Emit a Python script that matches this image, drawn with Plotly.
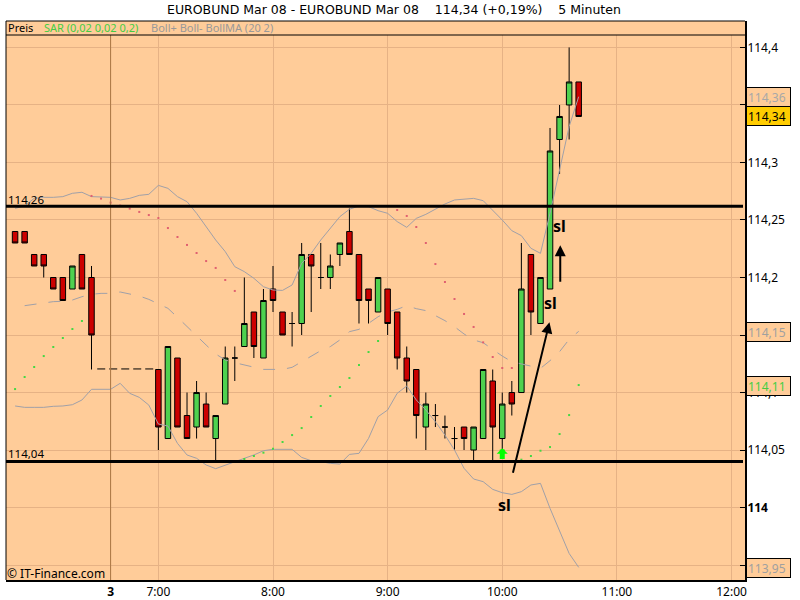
import plotly.graph_objects as go

# --- data ---
bar_x = [-15,-14,-13,-12,-11,-10,-9,-8,-7] + list(range(0,45))
opens = [114.24,114.24,114.22,114.22,114.20,114.20,114.19,114.22,114.20,
 114.12,114.06,114.13,114.08,114.07,114.09,114.06,114.09,114.13,114.14,114.17,114.13,114.19,114.17,114.16,114.16,
 114.22,114.20,114.20,114.22,114.24,114.22,114.19,114.17,114.19,114.17,114.13,114.12,114.07,114.08,114.07,114.06,
 114.07,114.05,114.06,114.11,114.06,114.10,114.10,114.22,114.16,114.19,114.32,114.35,114.37]
highs = [114.24,114.24,114.22,114.22,114.20,114.20,114.21,114.22,114.21,
 114.12,114.14,114.13,114.10,114.11,114.10,114.08,114.14,114.14,114.20,114.17,114.19,114.21,114.17,114.17,114.23,
 114.22,114.23,114.22,114.23,114.26,114.22,114.19,114.20,114.19,114.17,114.14,114.12,114.10,114.09,114.08,114.07,
 114.07,114.07,114.12,114.12,114.10,114.11,114.23,114.22,114.20,114.33,114.35,114.40,114.37]
lows = [114.23,114.23,114.21,114.20,114.19,114.18,114.19,114.19,114.12,
 114.05,114.06,114.07,114.06,114.06,114.07,114.04,114.09,114.11,114.14,114.13,114.13,114.17,114.15,114.14,114.15,
 114.17,114.19,114.19,114.21,114.22,114.16,114.16,114.17,114.15,114.12,114.10,114.06,114.05,114.07,114.06,114.05,
 114.05,114.04,114.06,114.04,114.05,114.08,114.10,114.15,114.16,114.19,114.29,114.32,114.34]
closes = [114.23,114.23,114.21,114.21,114.19,114.18,114.21,114.19,114.15,
 114.07,114.14,114.07,114.06,114.10,114.07,114.08,114.13,114.13,114.16,114.14,114.18,114.18,114.15,114.16,114.22,
 114.21,114.20,114.21,114.23,114.22,114.18,114.18,114.20,114.16,114.13,114.11,114.08,114.09,114.08,114.07,114.06,
 114.06,114.07,114.12,114.07,114.09,114.09,114.19,114.17,114.20,114.31,114.34,114.37,114.34]

boll_x = list(range(-15,45))
boll_upper = [114.2601,114.2622,114.2688,114.2697,114.2697,114.2703,114.2732,114.2741,114.2703,114.2697,114.2697,114.2674,114.2688,114.2714,114.2723,
 114.2801,114.2775,114.2703,114.2659,114.2558,114.2442,114.2326,114.2225,114.2094,114.2051,114.1993,114.1920,114.1891,114.1888,114.1935,
 114.2123,114.2210,114.2326,114.2428,114.2529,114.2593,114.2622,114.2616,114.2581,114.2558,114.2486,114.2436,114.2514,114.2549,114.2593,
 114.2639,114.2674,114.2683,114.2688,114.2668,114.2587,114.2500,114.2407,114.2364,114.2254,114.2210,114.2558,114.2935,114.3312,114.3572]
boll_lower = [114.0883,114.0871,114.0871,114.0871,114.0880,114.0883,114.0894,114.0935,114.1028,114.1028,114.1028,114.1080,114.0993,114.0958,114.0891,
 114.0726,114.0709,114.0558,114.0457,114.0428,114.0370,114.0338,114.0370,114.0401,114.0428,114.0457,114.0494,114.0506,114.0506,114.0506,
 114.0436,114.0407,114.0399,114.0384,114.0378,114.0462,114.0471,114.0601,114.0790,114.0848,114.0993,114.1057,114.0935,114.0848,114.0746,
 114.0630,114.0500,114.0341,114.0248,114.0225,114.0158,114.0129,114.0114,114.0138,114.0196,114.0210,113.9993,113.9790,113.9601,113.9480]
boll_ma_x = list(range(-14,45))
boll_ma = [114.1755,114.1767,114.1781,114.1790,114.1793,114.1804,114.1833,114.1854,114.1862,114.1862,114.1874,114.1854,114.1839,114.1810,
 114.1770,114.1732,114.1654,114.1572,114.1486,114.1413,114.1335,114.1283,114.1259,114.1239,114.1225,114.1201,114.1201,114.1201,114.1219,
 114.1265,114.1317,114.1364,114.1399,114.1457,114.1529,114.1549,114.1601,114.1659,114.1700,114.1723,114.1755,114.1729,114.1712,114.1671,
 114.1625,114.1572,114.1509,114.1457,114.1433,114.1375,114.1317,114.1268,114.1248,114.1225,114.1210,114.1277,114.1355,114.1462,114.1532]

sar_red_x = list(range(-7,9)) + list(range(25,38))
sar_red = [114.2709,114.2686,114.2651,114.2625,114.2599,114.2570,114.2543,114.2517,114.2430,114.2352,114.2283,114.2213,114.2143,114.2083,114.1978,114.1883,
 114.2587,114.2535,114.2439,114.2300,114.2117,114.1961,114.1813,114.1683,114.1570,114.1436,114.1309,114.1213,114.1213]
sar_green_x = list(range(-15,-7)) + list(range(9,24)) + list(range(38,45))
sar_green = [114.1030,114.1135,114.1222,114.1317,114.1396,114.1474,114.1552,114.1622,
 114.0422,114.0448,114.0477,114.0512,114.0570,114.0630,114.0691,114.0787,114.0883,114.0970,114.1048,114.1126,114.1239,114.1352,114.1448,
 114.0416,114.0448,114.0494,114.0526,114.0639,114.0804,114.1065]

gap_x = [-6.4, -0.3]
gap_y = [114.1205, 114.1205]
support = 114.04
resistance = 114.262
x_ticks = [-5, 0, 12, 24, 36, 48, 60]
x_labels = ["<b>3</b>", "7:00", "8:00", "9:00", "10:00", "11:00", "12:00"]
y_ticks = [113.95, 114.0, 114.05, 114.1, 114.15, 114.2, 114.25, 114.3, 114.35, 114.4]
y_labels = ["", "<b>114</b>", "114,05", "114,1", "", "114,2", "114,25", "114,3", "", "114,4"]

# --- layout constants ---
L, R, T, B = 6, 745, 21, 580
BG = "#FFCC99"
GRID = "#E6B285"
FONT = "Noto Sans"
px = lambda x: (x - L) / (R - L)
py = lambda y: (B - y) / (B - T)

fig = go.Figure()
fig.add_trace(go.Candlestick(
    x=bar_x, open=opens, high=highs, low=lows, close=closes, whiskerwidth=0,
    increasing=dict(fillcolor="#4FD14F", line=dict(color="black", width=1)),
    decreasing=dict(fillcolor="#CC0000", line=dict(color="black", width=1)),
    hoverinfo="skip", showlegend=False))
grey = "#A0A0A8"
for xs, ys, dash in [(boll_x, boll_upper, "solid"), (boll_x, boll_lower, "solid"), (boll_ma_x, boll_ma, "12px,12px")]:
    fig.add_trace(go.Scatter(x=xs, y=ys, mode="lines", line=dict(color=grey, width=1, dash=dash),
                             hoverinfo="skip", showlegend=False))
fig.add_trace(go.Scatter(x=sar_red_x, y=sar_red, mode="markers", marker=dict(symbol="square", size=2, color="#E06070"),
                         hoverinfo="skip", showlegend=False))
fig.add_trace(go.Scatter(x=sar_green_x, y=sar_green, mode="markers", marker=dict(symbol="square", size=2, color="#44D844"),
                         hoverinfo="skip", showlegend=False))
fig.add_trace(go.Scatter(x=gap_x, y=gap_y, mode="lines", line=dict(color="black", width=1, dash="8px,4px"),
                         hoverinfo="skip", showlegend=False))

shapes = [
    dict(type="line", xref="x", yref="paper", x0=-5, x1=-5, y0=0, y1=1, line=dict(color="#AA7744", width=1), layer="above"),
    dict(type="line", xref="paper", yref="y", x0=0, x1=px(743), y0=resistance, y1=resistance, line=dict(color="black", width=3)),
    dict(type="line", xref="paper", yref="y", x0=0, x1=px(743), y0=support, y1=support, line=dict(color="black", width=3)),
    dict(type="rect", xref="paper", yref="paper", x0=0, x1=1, y0=py(35), y1=1, fillcolor=BG, line=dict(width=0)),
    dict(type="line", xref="paper", yref="paper", x0=0, x1=1, y0=py(35), y1=py(35), line=dict(color="black", width=1)),
    dict(type="line", xref="paper", yref="paper", x0=0, x1=0, y0=0, y1=1, line=dict(color="black", width=1)),
    dict(type="line", xref="paper", yref="paper", x0=0, x1=1, y0=1, y1=1, line=dict(color="black", width=1)),
]

def text(x, y, s, color="black", size=12, anchor="left", family=FONT, **kw):
    return dict(xref="paper", yref="paper", x=px(x), y=py(y), text=s, showarrow=False, xanchor=anchor, yanchor="middle",
                font=dict(family=family, size=size, color=color), **kw)

nb = "\u00a0"
annotations = [
    text(394.5, 9, f"EUROBUND Mar 08 - EUROBUND Mar 08{nb*4}114,34 (+0,19%){nb*4}5 Minuten", size=12.5, anchor="center", family="DejaVu Sans"),
    text(6, 28, "Preis", size=11),
    text(42, 28, "SAR (0,02 0,02 0,2)", color="#44CC44", size=11),
    text(149, 28, "Boll+ Boll- BollMA (20 2)", color="#999999", size=11),
    text(5, 573, "© IT-Finance.com", size=12),
    text(6, 199, "114,26", size=11.5),
    text(6, 453.5, "114,04", size=11.5),
]
for x, v, s in [(36.2, 114.0025, "sl"), (41, 114.178, "sl"), (42, 114.245, "sl")]:
    annotations.append(dict(xref="x", yref="y", x=x, y=v, text=f"<b>{s}</b>", showarrow=False,
                            font=dict(family=FONT, size=16, color="black")))
for x0, y0, x1, y1, col, w, sz, head in [(37.08, 114.029, 40.94, 114.161, "black", 2, 1.1, 2),
                                         (42.07, 114.195, 42.07, 114.228, "black", 2, 1.1, 2),
                                         (36, 114.041, 36, 114.0515, "#00FF00", 5, 0.37, 1)]:
    annotations.append(dict(xref="x", yref="y", axref="x", ayref="y", x=x1, y=y1, ax=x0, ay=y0, text="",
                            showarrow=True, arrowhead=head, arrowsize=sz, arrowwidth=w, arrowcolor=col))
# price boxes on the right axis: (label, text colour, fill, pixel centre)
for label, col, fill, yc in [("114,36", "#A8A8A8", BG, 97.5), ("114,34", "black", "#FFCC00", 116),
                             ("114,15", "#A0A0A0", BG, 332.5), ("114,11", "#44CC44", BG, 386), ("113,95", "#A0A0A0", BG, 567.5)]:
    annotations.append(text(746, yc, label, color=col, size=12, bgcolor=fill, bordercolor="black", borderwidth=1,
                            borderpad=1, width=41, height=16, align="left"))

fig.update_layout(
    width=800, height=600, autosize=False, paper_bgcolor="white", plot_bgcolor=BG,
    margin=dict(l=L, r=800 - R, t=T, b=600 - B, autoexpand=False),
    font=dict(family=FONT, size=12, color="black"),
    shapes=shapes, annotations=annotations, showlegend=False, boxgap=0.18,
    xaxis=dict(range=[-15.95, 61.41], tickmode="array", tickvals=x_ticks, ticktext=x_labels, rangeslider=dict(visible=False),
               showgrid=True, gridcolor=GRID, gridwidth=1, zeroline=False, showline=True, linecolor="black", linewidth=2,
               ticks="", tickfont=dict(size=12), fixedrange=True, automargin=False),
    yaxis=dict(range=[113.937, 114.423], side="right", tickmode="array", tickvals=y_ticks, ticktext=y_labels,
               showgrid=True, gridcolor=GRID, gridwidth=1, zeroline=False, showline=True, linecolor="black", linewidth=2,
               ticks="inside", ticklen=5, tickcolor="black", tickwidth=1, tickfont=dict(size=12), fixedrange=True, automargin=False,
               ticklabelstandoff=-2),
)
fig.write_html("out.html", config=dict(displayModeBar=False),
               post_script="document.body.style.margin='0';document.body.style.overflow='hidden';")
